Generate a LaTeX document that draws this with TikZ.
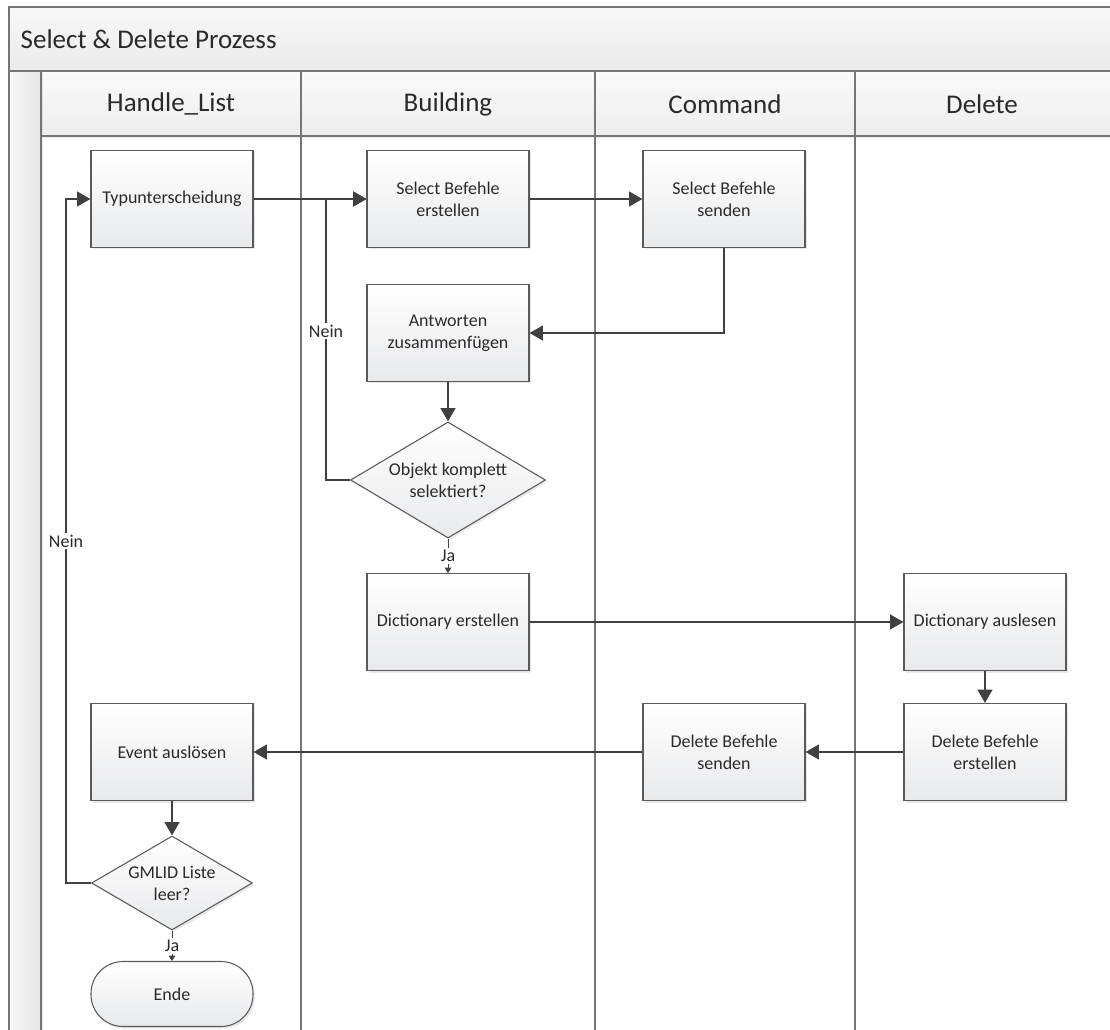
\documentclass[tikz,border=0pt]{standalone}
\usepackage{fontspec}
\setmainfont{Carlito}
\usetikzlibrary{shapes.geometric,arrows.meta,shadows}

\definecolor{edgecol}{HTML}{404040}
\definecolor{framecol}{HTML}{767676}
\definecolor{boxline}{HTML}{5A5A5A}
\definecolor{boxbot}{HTML}{E8E9EB}
\definecolor{ink}{HTML}{2A2A2A}

\begin{document}
\begin{tikzpicture}[x=0.75pt,y=-0.75pt,
  lanefont/.style={font=\fontsize{20.25pt}{24pt}\selectfont},
  boxfont/.style={font=\fontsize{13.5pt}{16.5pt}\selectfont},
  shade/.style={drop shadow={opacity=0.18,shadow xshift=1.5pt,shadow yshift=-1.5pt}},
  stepbox/.style={draw=boxline,line width=0.8pt,top color=white,bottom color=boxbot,
    minimum width=121.5pt,minimum height=72.75pt,inner sep=2pt,align=center,
    text=ink,boxfont,shade},
  decision/.style={diamond,draw=boxline,line width=0.8pt,top color=white,bottom color=boxbot,
    inner sep=0pt,align=center,text=ink,boxfont,shade},
  terminal/.style={draw=boxline,line width=0.8pt,top color=white,bottom color=boxbot,
    rounded corners=24pt,minimum width=121.5pt,minimum height=48.75pt,
    align=center,text=ink,boxfont,shade},
  frameline/.style={draw=framecol,line width=1.1pt},
  flow/.style={draw=edgecol,line width=1.5pt,-{Triangle[length=10pt,width=11pt]}},
  jaflow/.style={draw=edgecol,line width=0.75pt,-{Triangle[length=4pt,width=5pt]}},
  lbl/.style={fill=white,inner sep=1.5pt,text=ink,boxfont},
]
\useasboundingbox (0,0) rectangle (1110,1030);

% pool background: title bar, lane header row, left gutter
\shade[top color=white!97!black,bottom color=white!92!black] (9,7) rectangle (1110,71);
\shade[top color=white!98!black,bottom color=white!93!black] (41,71) rectangle (1110,136);
\shade[left color=white!97!black,right color=white!90!black] (9,71) rectangle (41,1030);

% pool and lane borders
\draw[frameline] (1110,7) -- (9,7) -- (9,1030);
\draw[frameline] (9,71) -- (1110,71);
\draw[frameline] (41,71) -- (41,1030);
\draw[frameline] (41,136) -- (1110,136);
\foreach \lx in {301,595,855} \draw[frameline] (\lx,71) -- (\lx,1030);

% titles
\node[lanefont,text=ink,anchor=west] (title) at (16,39) {Select \& Delete Prozess};
\node[lanefont,text=ink] (laneA) at (171,104) {Handle\_List};
\node[lanefont,text=ink] (laneB) at (448,104) {Building};
\node[lanefont,text=ink] (laneC) at (725,104) {Command};
\node[lanefont,text=ink] (laneD) at (982,104) {Delete};

% process steps
\node[stepbox] (typ)  at (172,199) {Typunterscheidung};
\node[stepbox] (sbe)  at (448,199) {Select Befehle\\erstellen};
\node[stepbox] (sbs)  at (724,199) {Select Befehle\\senden};
\node[stepbox] (ant)  at (448,333) {Antworten\\zusammenfügen};
\node[decision,minimum width=146.25pt,minimum height=87pt,aspect=1.68] (obj) at (448,480) {Objekt komplett\\selektiert?};
\node[stepbox] (dice) at (448,622) {Dictionary erstellen};
\node[stepbox] (dica) at (985,622) {Dictionary auslesen};
\node[stepbox] (dbe)  at (985,752) {Delete Befehle\\erstellen};
\node[stepbox] (dbs)  at (724,752) {Delete Befehle\\senden};
\node[stepbox] (evt)  at (172,752) {Event auslösen};
\node[decision,minimum width=120.75pt,minimum height=70.5pt,aspect=1.71] (gml) at (172,883) {GMLID Liste\\leer?};
\node[terminal] (ende) at (172,994) {Ende};

% connectors
\draw[flow] (typ) -- (sbe);
\coordinate (nk) at (326,480);
\coordinate (nt) at (326,199);
\draw[flow] (obj.west) -- (nk) -- node[lbl,pos=0.53]{Nein} (nt) -- (sbe.west);
\draw[flow] (sbe) -- (sbs);
\draw[flow] (sbs.south) |- (ant.east);
\draw[flow] (ant) -- (obj);
\draw[jaflow] (obj.south) -- node[lbl]{Ja} (dice.north);
\draw[flow] (dice) -- (dica);
\draw[flow] (dica) -- (dbe);
\draw[flow] (dbe) -- (dbs);
\draw[flow] (dbs) -- (evt);
\draw[flow] (evt) -- (gml);
\coordinate (gk) at (66,883);
\coordinate (gt) at (66,199);
\draw[flow] (gml.west) -- (gk) -- node[lbl]{Nein} (gt) -- (typ.west);
\draw[jaflow] (gml.south) -- node[lbl]{Ja} (ende.north);
\end{tikzpicture}
\end{document}
